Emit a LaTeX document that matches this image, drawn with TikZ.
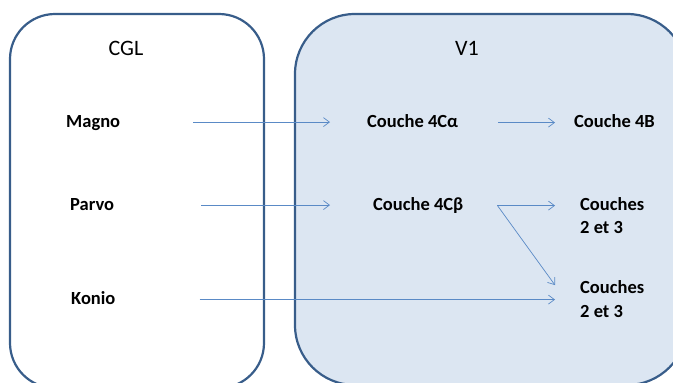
\documentclass[tikz,border=0pt]{standalone}
\usepackage{fontspec}
\setmainfont{Carlito}
\usetikzlibrary{arrows.meta}
\definecolor{boxline}{HTML}{385D8A}
\definecolor{boxfill}{HTML}{DCE6F2}
\definecolor{arrowcol}{HTML}{5A8AC6}
\tikzset{
  region/.style={draw=boxline, line width=2.2pt},
  lbl/.style={font=\fontsize{18.5}{22}\selectfont\bfseries, inner sep=0pt, anchor=base west},
  title/.style={font=\fontsize{22}{26}\selectfont, inner sep=0pt, anchor=base},
  arr/.style={draw=arrowcol, line width=0.7pt,
    -{Straight Barb[length=6pt,width=9pt,line width=0.7pt]}}
}
\begin{document}
\begin{tikzpicture}[x=1pt,y=-1pt]
\useasboundingbox (0,0) rectangle (673,383);
\clip (0,0) rectangle (673,383);

% the two regions: lateral geniculate body and primary visual cortex
\draw[region, rounded corners=45pt] (10,14) rectangle (264,388);
\draw[region, fill=boxfill, rounded corners=60pt] (295,14) rectangle (687,385);

\node[title] (cgl) at (126,55) {CGL};
\node[title] (v1)  at (467,55) {V1};

% pathways
\node[lbl] (magno) at (66,127) {Magno};
\node[lbl] (parvo) at (70,210) {Parvo};
\node[lbl] (konio) at (71,304) {Konio};

% cortical layers
\node[lbl] (c4ca)  at (367,127) {Couche 4Cα};
\node[lbl] (c4b)   at (574,127) {Couche 4B};
\node[lbl] (c4cb)  at (373,210) {Couche 4Cβ};
\node[lbl] (c23a)  at (580,210) {Couches};
\node[lbl] (c23a2) at (580,233) {2 et 3};
\node[lbl] (c23b)  at (580,293) {Couches};
\node[lbl] (c23b2) at (580,317) {2 et 3};

% projections
\draw[arr] ([xshift=73pt,yshift=2.5pt]magno.mid east) -- ([xshift=-37pt,yshift=2.5pt]c4ca.mid west);
\draw[arr] ([xshift=40pt,yshift=2pt]c4ca.mid east) -- ([xshift=-19pt,yshift=2pt]c4b.mid west);
\draw[arr] ([xshift=87pt,yshift=2.5pt]parvo.mid east) -- ([xshift=-43pt,yshift=2.5pt]c4cb.mid west);
\draw[arr] ([xshift=34pt,yshift=2pt]c4cb.mid east) -- ([xshift=-25pt,yshift=2pt]c23a.mid west);
\draw[arr] ([xshift=34pt,yshift=2pt]c4cb.mid east) -- ([xshift=-25pt,yshift=5.5pt]c23b.mid west);
\draw[arr] ([xshift=84pt,yshift=2pt]konio.mid east) -- ([xshift=-25pt,yshift=2pt]c23b.mid west |- konio.mid east);
\end{tikzpicture}
\end{document}
